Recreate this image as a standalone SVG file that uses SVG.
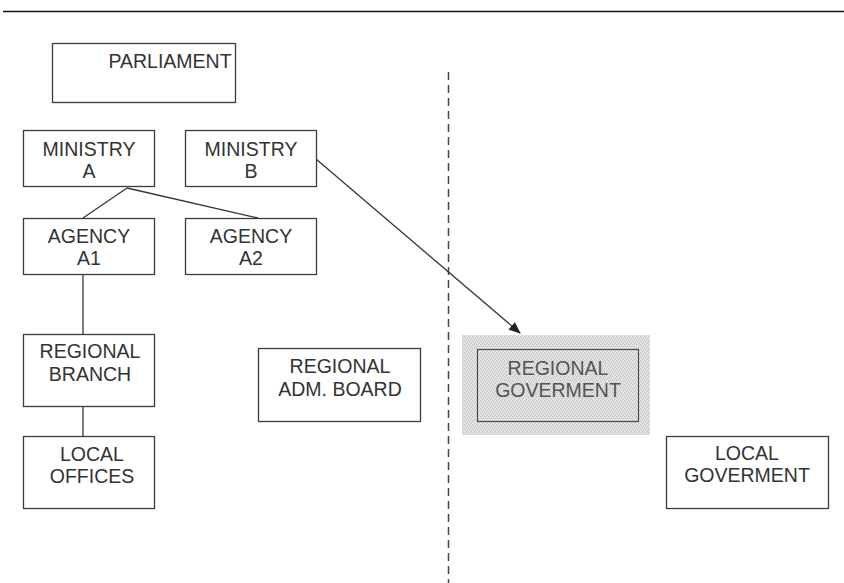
<svg xmlns="http://www.w3.org/2000/svg" width="844" height="583" viewBox="0 0 844 583">
<defs>
<style>
.box{fill:#fff;stroke:#3a3a48;stroke-width:1.3}
.t{font-family:"Liberation Sans",Arial,sans-serif;font-size:19.5px;fill:#333;text-anchor:middle}
.tg{font-family:"Liberation Sans",Arial,sans-serif;font-size:19.5px;fill:#555;text-anchor:middle}
.ln{stroke:#333340;stroke-width:1.3;fill:none}
</style>
<pattern id="stip" width="4" height="4" patternUnits="userSpaceOnUse">
<rect width="4" height="4" fill="#e4e4e4"/>
<rect x="0" y="0" width="1" height="1" fill="#c2c2c2"/>
<rect x="2" y="0" width="1" height="1" fill="#d0d0d0"/>
<rect x="1" y="1" width="1" height="1" fill="#cacaca"/>
<rect x="3" y="2" width="1" height="1" fill="#c4c4c4"/>
<rect x="0" y="2" width="1" height="1" fill="#d2d2d2"/>
<rect x="2" y="3" width="1" height="1" fill="#c8c8c8"/>
</pattern>
<marker id="arr" markerWidth="12" markerHeight="10" refX="11" refY="5" orient="auto" markerUnits="userSpaceOnUse">
<path d="M0,0 L12,5 L0,10 Z" fill="#222"/>
</marker>
</defs>
<rect width="844" height="583" fill="#fff"/>
<line x1="3" y1="11.5" x2="844" y2="11.5" stroke="#111" stroke-width="1.5"/>
<line x1="448.5" y1="72" x2="448.5" y2="583" stroke="#444452" stroke-width="1.5" stroke-dasharray="8 5"/>

<g id="connectors">
<line class="ln" x1="127" y1="188" x2="83" y2="218"/>
<line class="ln" x1="127" y1="188" x2="258" y2="218"/>
<line class="ln" x1="83" y1="275" x2="83" y2="334"/>
<line class="ln" x1="83" y1="407" x2="83" y2="436"/>
<line class="ln" x1="316" y1="159" x2="520" y2="333" marker-end="url(#arr)"/>
</g>

<g id="parliament">
<rect class="box" x="52.5" y="43.5" width="183" height="59"/>
<text class="t" x="170" y="68">PARLIAMENT</text>
</g>
<g id="ministry-a">
<rect class="box" x="23.5" y="130.5" width="131" height="56"/>
<text class="t" x="89" y="156">MINISTRY</text>
<text class="t" x="89" y="178">A</text>
</g>
<g id="ministry-b">
<rect class="box" x="185.5" y="130.5" width="131" height="56"/>
<text class="t" x="251" y="156">MINISTRY</text>
<text class="t" x="251" y="178">B</text>
</g>
<g id="agency-a1">
<rect class="box" x="23.5" y="218.5" width="131" height="56"/>
<text class="t" x="89" y="243">AGENCY</text>
<text class="t" x="89" y="265">A1</text>
</g>
<g id="agency-a2">
<rect class="box" x="185.5" y="218.5" width="131" height="56"/>
<text class="t" x="251" y="243">AGENCY</text>
<text class="t" x="251" y="265">A2</text>
</g>
<g id="regional-branch">
<rect class="box" x="23.5" y="334.5" width="131" height="72"/>
<text class="t" x="90" y="358">REGIONAL</text>
<text class="t" x="90" y="381">BRANCH</text>
</g>
<g id="local-offices">
<rect class="box" x="23.5" y="436.5" width="131" height="72"/>
<text class="t" x="92" y="461">LOCAL</text>
<text class="t" x="92" y="483">OFFICES</text>
</g>
<g id="regional-adm-board">
<rect class="box" x="258.5" y="348.5" width="162" height="73"/>
<text class="t" x="340" y="373">REGIONAL</text>
<text class="t" x="340" y="396">ADM. BOARD</text>
</g>
<g id="regional-government">
<rect x="462" y="335" width="188" height="100" fill="url(#stip)"/>
<rect x="477.5" y="349.5" width="161" height="72" fill="none" stroke="#4a4a55" stroke-width="1.2"/>
<text class="tg" x="558" y="375">REGIONAL</text>
<text class="tg" x="558" y="397">GOVERMENT</text>
</g>
<g id="local-government">
<rect class="box" x="666.5" y="436.5" width="162" height="72"/>
<text class="t" x="747" y="460">LOCAL</text>
<text class="t" x="747" y="482">GOVERMENT</text>
</g>
</svg>
